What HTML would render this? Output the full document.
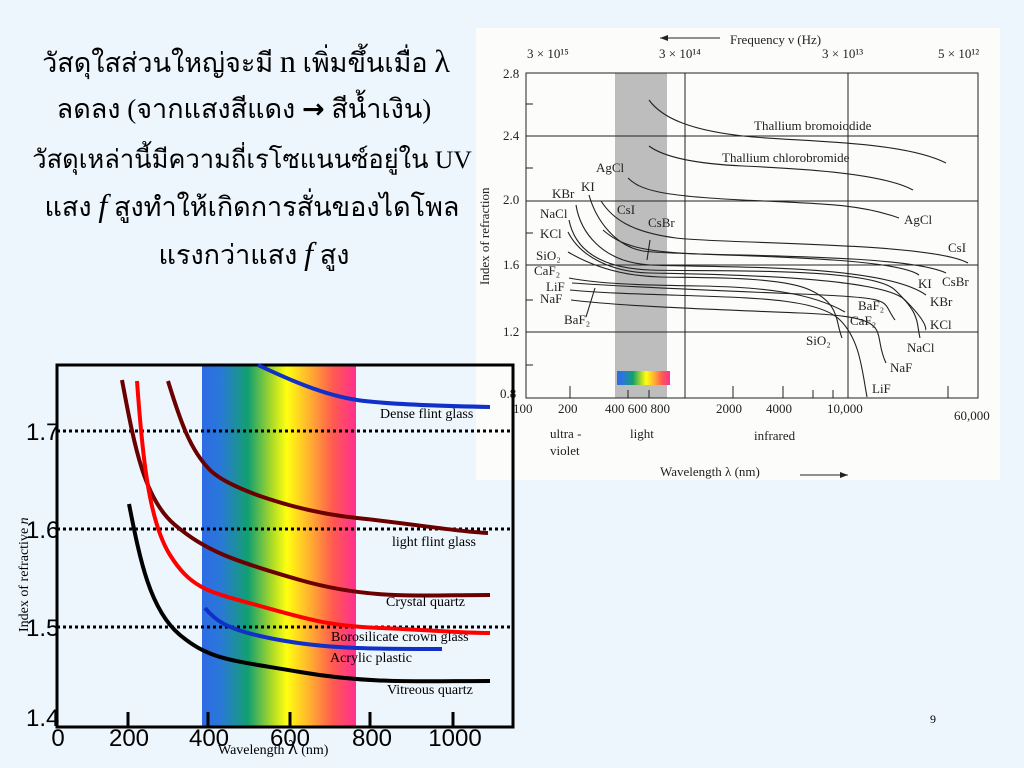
<!DOCTYPE html>
<html><head><meta charset="utf-8"><style>
html,body{margin:0;padding:0;background:#eef6fd;}
svg{display:block}
</style></head><body>
<svg width="1024" height="768" viewBox="0 0 1024 768" xmlns="http://www.w3.org/2000/svg">
<defs>
<linearGradient id="spec" x1="0" x2="1" y1="0" y2="0">
<stop offset="0" stop-color="#2d6be6"/><stop offset="0.12" stop-color="#2a78d8"/>
<stop offset="0.3" stop-color="#13a070"/><stop offset="0.45" stop-color="#a8d82a"/>
<stop offset="0.55" stop-color="#ffff10"/><stop offset="0.7" stop-color="#ffb030"/>
<stop offset="0.85" stop-color="#ff5a50"/><stop offset="1" stop-color="#ff2f90"/>
</linearGradient>
</defs>
<rect width="1024" height="768" fill="#eef6fd"/>
<!-- Thai text -->
<g font-family="'Liberation Serif','Noto Serif CJK SC',serif" font-size="27" fill="#000" text-anchor="middle">
<text x="246" y="72">วัสดุใสส่วนใหญ่จะมี <tspan font-size="32">n</tspan> เพิ่มขึ้นเมื่อ <tspan font-size="32">λ</tspan></text>
<text x="244" y="118">ลดลง (จากแสงสีแดง <tspan font-family="'DejaVu Sans',sans-serif" font-weight="bold">→</tspan>   สีน้ำเงิน)</text>
<text x="252" y="168" font-size="25.5">วัสดุเหล่านี้มีความถี่เรโซแนนซ์อยู่ใน  UV</text>
<text x="252" y="216">แสง <tspan font-style="italic" font-size="32">f</tspan> สูงทำให้เกิดการสั่นของไดโพล</text>
<text x="254" y="264">แรงกว่าแสง <tspan font-style="italic" font-size="32">f</tspan> สูง</text>
</g>
<!-- Top-right scanned chart -->
<rect x="476" y="28" width="524" height="452" fill="#fcfcfa"/>
<rect x="615" y="73" width="52" height="325" fill="#bdbdbd"/>
<rect x="617" y="371" width="53" height="14" fill="url(#spec)"/>
<g stroke="#222" stroke-width="1" fill="none">
<rect x="526" y="73" width="452" height="325"/>
<line x1="526" y1="136" x2="978" y2="136"/><line x1="526" y1="201" x2="978" y2="201"/>
<line x1="526" y1="265" x2="978" y2="265"/><line x1="526" y1="332" x2="978" y2="332"/>
<line x1="685" y1="73" x2="685" y2="398"/><line x1="848" y1="73" x2="848" y2="398"/>
<line x1="570" y1="386" x2="570" y2="398"/><line x1="628" y1="390" x2="628" y2="398"/><line x1="649" y1="390" x2="649" y2="398"/>
<line x1="733" y1="386" x2="733" y2="398"/><line x1="783" y1="386" x2="783" y2="398"/><line x1="813" y1="390" x2="813" y2="398"/><line x1="833" y1="390" x2="833" y2="398"/><line x1="948" y1="386" x2="948" y2="398"/>
<line x1="526" y1="104" x2="533" y2="104"/><line x1="526" y1="168" x2="533" y2="168"/><line x1="526" y1="233" x2="533" y2="233"/><line x1="526" y1="300" x2="533" y2="300"/><line x1="526" y1="365" x2="533" y2="365"/>
<line x1="660" y1="38" x2="720" y2="38"/><line x1="800" y1="475" x2="848" y2="475"/>
</g>
<path d="M660 38 l8 -3 v6z M848 475 l-8 -3 v6z" fill="#222"/>
<g stroke="#222" stroke-width="1.1" fill="none">
<path d="M649 100 C662 118 690 130 743 136 S900 140 946 163"/>
<path d="M649 146 C665 158 700 164 743 166 S880 172 913 190"/>
<path d="M628 178 C640 190 660 196 743 200 S860 204 899 218"/>
<path d="M601 201 C612 218 630 232 676 238 S930 242 968 263"/>
<path d="M589 195 C596 220 615 246 643 251 S890 254 919 275"/>
<path d="M603 230 C620 245 640 252 700 254 S910 256 946 273"/>
<path d="M576 205 C580 230 600 262 650 265 S880 262 926 295"/>
<path d="M569 220 C575 250 600 268 650 270 S870 266 895 290 S916 320 920 338"/>
<path d="M568 232 C580 256 610 272 650 273 S880 275 905 300 S925 330 926 330"/>
<path d="M568 252 C590 265 620 276 660 277 S780 276 810 290 S835 320 842 338"/>
<path d="M569 278 C600 284 640 285 700 286 S810 292 845 312"/>
<path d="M570 290 C600 293 640 294 700 296 S820 300 840 320 S862 370 867 397"/>
<path d="M571 300 C620 306 700 309 800 313 S870 330 886 363"/>
<path d="M572 283 C630 287 700 290 800 294 S880 300 895 320"/>
<path d="M586 317 L595 288"/><path d="M647 260 L650 240"/>
</g>
<g font-family="'Liberation Serif',serif" font-size="13" fill="#222">
<text x="730" y="44">Frequency ν (Hz)</text>
<text x="527" y="58">3 × 10¹⁵</text><text x="659" y="58">3 × 10¹⁴</text><text x="822" y="58">3 × 10¹³</text><text x="938" y="58">5 × 10¹²</text>
<text x="503" y="78">2.8</text><text x="503" y="140">2.4</text><text x="503" y="204">2.0</text><text x="503" y="269">1.6</text><text x="503" y="336">1.2</text><text x="500" y="398">0.8</text>
<text x="513" y="413">100</text><text x="558" y="413">200</text><text x="605" y="413">400 600 800</text><text x="716" y="413">2000</text><text x="766" y="413">4000</text><text x="827" y="413">10,000</text><text x="954" y="420">60,000</text>
<text x="550" y="438">ultra -</text><text x="550" y="455">violet</text><text x="630" y="438">light</text><text x="754" y="440">infrared</text>
<text x="660" y="476">Wavelength λ (nm)</text>
<text transform="translate(489,285) rotate(-90)">Index of refraction</text>
<text x="754" y="130">Thallium bromoiodide</text><text x="722" y="162">Thallium chlorobromide</text>
<text x="596" y="172">AgCl</text><text x="552" y="198">KBr</text><text x="581" y="191">KI</text>
<text x="540" y="218">NaCl</text><text x="540" y="238">KCl</text><text x="536" y="260">SiO₂</text><text x="534" y="275">CaF₂</text>
<text x="546" y="291">LiF</text><text x="540" y="303">NaF</text><text x="564" y="324">BaF₂</text>
<text x="617" y="214">CsI</text><text x="648" y="227">CsBr</text><text x="904" y="224">AgCl</text><text x="948" y="252">CsI</text>
<text x="918" y="288">KI</text><text x="942" y="286">CsBr</text><text x="930" y="306">KBr</text><text x="930" y="329">KCl</text>
<text x="858" y="310">BaF₂</text><text x="850" y="325">CaF₂</text><text x="806" y="345">SiO₂</text><text x="907" y="352">NaCl</text>
<text x="890" y="372">NaF</text><text x="872" y="393">LiF</text>
</g>
<!-- Bottom chart -->
<rect x="202" y="365" width="154" height="362" fill="url(#spec)"/>
<rect x="57" y="365" width="456" height="362" fill="none" stroke="#000" stroke-width="3"/>
<g stroke="#000" stroke-width="3" stroke-dasharray="3,3">
<line x1="57" y1="431" x2="513" y2="431"/><line x1="57" y1="529" x2="513" y2="529"/><line x1="57" y1="627" x2="513" y2="627"/>
</g>
<g stroke="#000" stroke-width="3"><line x1="128" y1="712" x2="128" y2="727"/><line x1="208" y1="712" x2="208" y2="727"/><line x1="290" y1="712" x2="290" y2="727"/><line x1="370" y1="712" x2="370" y2="727"/><line x1="453" y1="712" x2="453" y2="727"/></g>
<g fill="none" stroke-width="4">
<path d="M258 365 C300 385 330 396 357 400 S440 406 490 407" stroke="#1030c8"/>
<path d="M168 381 C180 420 190 450 210 470 S300 512 357 518 S460 532 488 533" stroke="#6a0000"/>
<path d="M122 380 C135 450 145 500 175 525 S230 560 300 580 S420 595 490 595" stroke="#6a0000"/>
<path d="M137 381 C142 450 148 520 170 555 S210 592 260 606 S330 626 380 628 S460 633 490 633" stroke="#ff0000"/>
<path d="M205 608 C215 620 225 628 260 636 S330 647 357 648 S420 649 442 649" stroke="#1030c8"/>
<path d="M129 504 C140 560 150 610 180 635 S230 660 300 672 S420 681 490 681" stroke="#000"/>
</g>
<g font-family="'Liberation Serif',serif" font-size="14" fill="#000">
<text x="380" y="418">Dense flint glass</text><text x="392" y="546">light flint glass</text>
<text x="386" y="606">Crystal quartz</text><text x="331" y="641">Borosilicate crown glass</text>
<text x="330" y="662">Acrylic plastic</text><text x="387" y="694">Vitreous quartz</text>
<text x="218" y="754">Wavelength  <tspan font-size="20">λ</tspan> (nm)</text>
<text transform="translate(28,632) rotate(-90)">Index of refractive   <tspan font-style="italic">n</tspan></text>
<text x="930" y="723" font-size="12">9</text>
</g>
<g font-family="'Liberation Sans',sans-serif" font-size="24" fill="#000">
<text x="26" y="440">1.7</text><text x="26" y="538">1.6</text><text x="26" y="636">1.5</text><text x="26" y="726">1.4</text>
<text x="58" y="746" text-anchor="middle">0</text><text x="129" y="746" text-anchor="middle">200</text><text x="209" y="746" text-anchor="middle">400</text>
<text x="290" y="746" text-anchor="middle">600</text><text x="372" y="746" text-anchor="middle">800</text><text x="455" y="746" text-anchor="middle">1000</text>
</g>
</svg>
</body></html>
